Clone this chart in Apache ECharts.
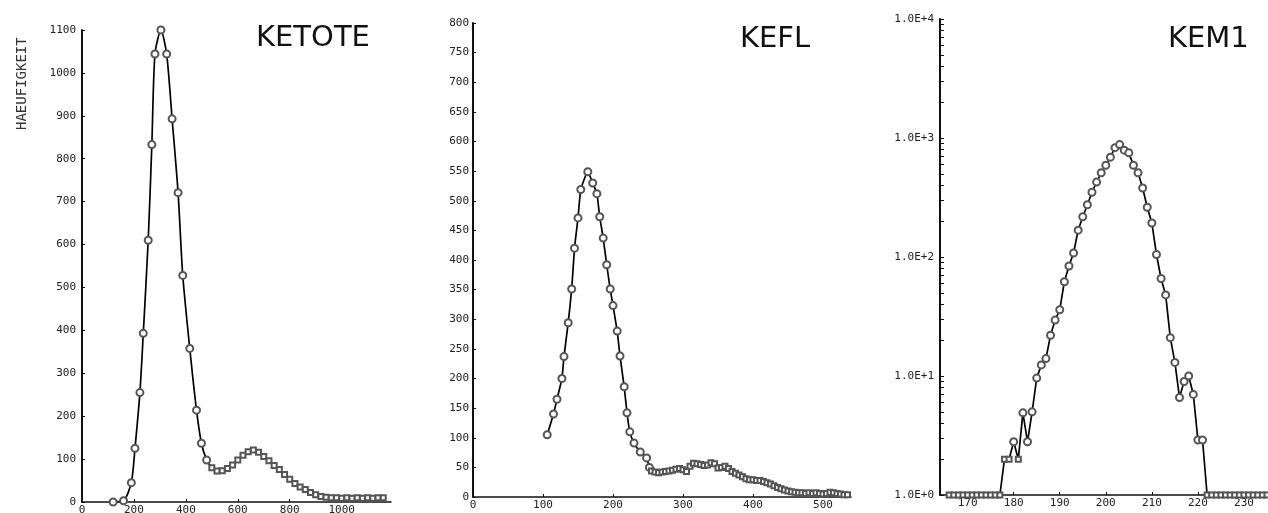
<!DOCTYPE html>
<html>
<head>
<meta charset="utf-8">
<script src="https://cdn.jsdelivr.net/npm/echarts@6/dist/echarts.min.js"></script>
<style>
    html, body { margin: 0; padding: 0; background: #fff; }
    #chart { width: 1268px; height: 513px; }
</style>
</head>
<body>
<div id="chart"></div>
<script>
// KETOTE - linear histogram
const ketoteX = [120, 160, 190, 204, 223, 236, 255, 269, 281, 304, 326, 347, 370, 388, 415, 441, 460, 480,
    500, 520, 540, 560, 580, 600, 620, 640, 660, 680, 700, 720, 740, 760, 780, 800, 820, 840, 860, 880,
    900, 920, 940, 960, 980, 1000, 1020, 1040, 1060, 1080, 1100, 1120, 1140, 1160];
const ketoteY = [0, 3, 45, 125, 255, 393, 610, 833, 1044, 1100, 1044, 893, 721, 528, 358, 214, 137, 98,
    80, 72, 73, 78, 86, 98, 109, 117, 121, 116, 106, 96, 85, 76, 64, 53, 43, 35, 29, 22,
    17, 13, 11, 10, 10, 9, 10, 9, 10, 9, 10, 9, 10, 10];

// KEFL - linear histogram
const keflX = [106, 115, 120, 127, 130, 136, 141, 145, 150, 154, 164, 171, 177, 181, 186, 191, 196, 200,
    206, 210, 216, 220, 224, 230, 239, 248, 252,
    255, 260, 265, 270, 275, 280, 285, 290, 295, 300, 305, 310, 315, 320, 325, 330, 335, 340, 345, 350,
    355, 360, 365, 370, 375, 380, 385, 390, 395, 400, 405, 410, 415, 420, 425, 430, 435, 440, 445, 450,
    455, 460, 465, 470, 475, 480, 485, 490, 495, 500, 505, 510, 515, 520, 525, 530, 535];
const keflY = [105, 140, 165, 200, 237, 294, 351, 420, 471, 519, 549, 530, 512, 473, 437, 392, 351, 323,
    280, 238, 186, 142, 110, 91, 76, 66, 50,
    44, 42, 41, 42, 43, 44, 45, 47, 48, 46, 43, 52, 57, 56, 55, 53, 54, 58, 56, 49,
    50, 52, 48, 43, 40, 37, 34, 31, 29, 29, 28, 28, 26, 24, 22, 19, 16, 14, 12, 10,
    9, 8, 7, 7, 6, 7, 6, 7, 6, 5, 6, 8, 7, 6, 5, 4, 4];

// KEM1 - log histogram, one value per channel 166..235
const kem1Start = 166;
const kem1Y = [1, 1, 1, 1, 1, 1, 1, 1, 1, 1, 1, 1,
    2, 2, 2.8, 2, 4.9, 2.8, 5, 9.6, 12.4, 14, 22, 29.5, 36, 62, 84, 108,
    168, 218, 275, 350, 426, 510, 590, 690, 830, 880,
    790, 750, 590, 510, 380, 262, 193, 105, 66, 48, 21, 13, 6.6, 9, 10, 7, 2.9, 2.9,
    1, 1, 1, 1, 1, 1, 1, 1, 1, 1, 1, 1, 1, 1];

const ketoteTicks = [0, 200, 400, 600, 800, 1000];
const keflTicks = [0, 100, 200, 300, 400, 500];
const kem1Ticks = [170, 180, 190, 200, 210, 220, 230];
const kem1Decades = [1, 10, 100, 1000, 10000];

function pairs(xs, ys) {
    return xs.map((x, i) => [x, ys[i]]);
}

const kem1Data = kem1Y.map((v, i) => [kem1Start + i, v]);

let minorLog = [];
kem1Decades.slice(0, 4).forEach(d => {
    for (let k = 1; k < 10; k++) minorLog.push(d * k);
});
minorLog.push(10000);

const ink = '#111';
const labelFont = { color: '#222', fontFamily: 'DejaVu Sans Mono', fontSize: 11 };
const plain = v => String(v);

function xAxisCfg(idx, min, max, ticks) {
    return {
        type: 'value', gridIndex: idx, min: min, max: max,
        splitLine: { show: false },
        axisLine: { lineStyle: { color: ink, width: 1.5 } },
        axisTick: { show: true, length: 3, inside: true, customValues: ticks, lineStyle: { color: ink } },
        axisLabel: Object.assign({ margin: 3, customValues: ticks, formatter: plain }, labelFont)
    };
}

// rect markers where isRect says so, thin hollow circles elsewhere
function lineSeries(idx, data, smooth, isRect) {
    return {
        type: 'line', xAxisIndex: idx, yAxisIndex: idx,
        data: data, smooth: smooth,
        showAllSymbol: true,
        symbol: function (value) { return isRect(value) ? 'emptyRect' : 'emptyCircle'; },
        symbolSize: function (value) { return isRect(value) ? 5 : 7; },
        lineStyle: { color: '#000', width: 1.7 },
        itemStyle: { color: '#555', borderWidth: 0.8 },
        z: 3,
        animation: false
    };
}

const chart = echarts.init(document.getElementById('chart'));
chart.setOption({
    backgroundColor: '#fff',
    animation: false,
    title: [
        { text: 'KETOTE', left: 251, top: 19, textStyle: { fontFamily: 'DejaVu Sans', fontWeight: 'normal', fontSize: 29, color: '#111' } },
        { text: 'KEFL', left: 735, top: 20, textStyle: { fontFamily: 'DejaVu Sans', fontWeight: 'normal', fontSize: 29, color: '#111' } },
        { text: 'KEM1', left: 1163, top: 20, textStyle: { fontFamily: 'DejaVu Sans', fontWeight: 'normal', fontSize: 29, color: '#111' } }
    ],
    graphic: [{
        type: 'text', x: 22, y: 130, rotation: Math.PI / 2,
        style: { text: 'HAEUFIGKEIT', font: '14px "DejaVu Sans Mono"', fill: '#333', textAlign: 'left', textVerticalAlign: 'middle' }
    }],
    grid: [
        { left: 82, top: 30, width: 309, height: 472, outerBoundsMode: 'none' },
        { left: 473, top: 23, width: 378, height: 474, outerBoundsMode: 'none' },
        { left: 940, top: 19, width: 327, height: 476, outerBoundsMode: 'none' }
    ],
    xAxis: [
        xAxisCfg(0, 0, 1190, ketoteTicks),
        xAxisCfg(1, 0, 540, keflTicks),
        xAxisCfg(2, 164, 235, kem1Ticks)
    ],
    yAxis: [
        {
            type: 'value', gridIndex: 0, min: 0, max: 1100, interval: 100,
            splitLine: { show: false },
            axisLine: { show: true, lineStyle: { color: ink, width: 2 } },
            axisTick: { show: true, length: 3, inside: true, lineStyle: { color: ink } },
            axisLabel: Object.assign({ margin: 6, formatter: plain }, labelFont)
        },
        {
            type: 'value', gridIndex: 1, min: 0, max: 800, interval: 50,
            splitLine: { show: false },
            axisLine: { show: true, lineStyle: { color: ink, width: 2 } },
            axisTick: { show: true, length: 3, inside: true, lineStyle: { color: ink } },
            axisLabel: Object.assign({ margin: 4, formatter: plain }, labelFont)
        },
        {
            type: 'log', logBase: 10, gridIndex: 2, min: 1, max: 10000,
            splitLine: { show: false },
            axisLine: { show: true, lineStyle: { color: ink, width: 2 } },
            axisTick: { show: true, length: 4, inside: true, customValues: minorLog, lineStyle: { color: ink } },
            axisLabel: Object.assign({
                margin: 6, customValues: kem1Decades,
                formatter: v => '1.0E+' + Math.round(Math.log10(v))
            }, labelFont)
        }
    ],
    series: [
        lineSeries(0, pairs(ketoteX, ketoteY), 0.25, v => v[0] >= 490),
        lineSeries(1, pairs(keflX, keflY), 0.15, v => v[0] >= 253),
        lineSeries(2, kem1Data, false, v => v[1] <= 2.1)
    ]
});
</script>
</body>
</html>
